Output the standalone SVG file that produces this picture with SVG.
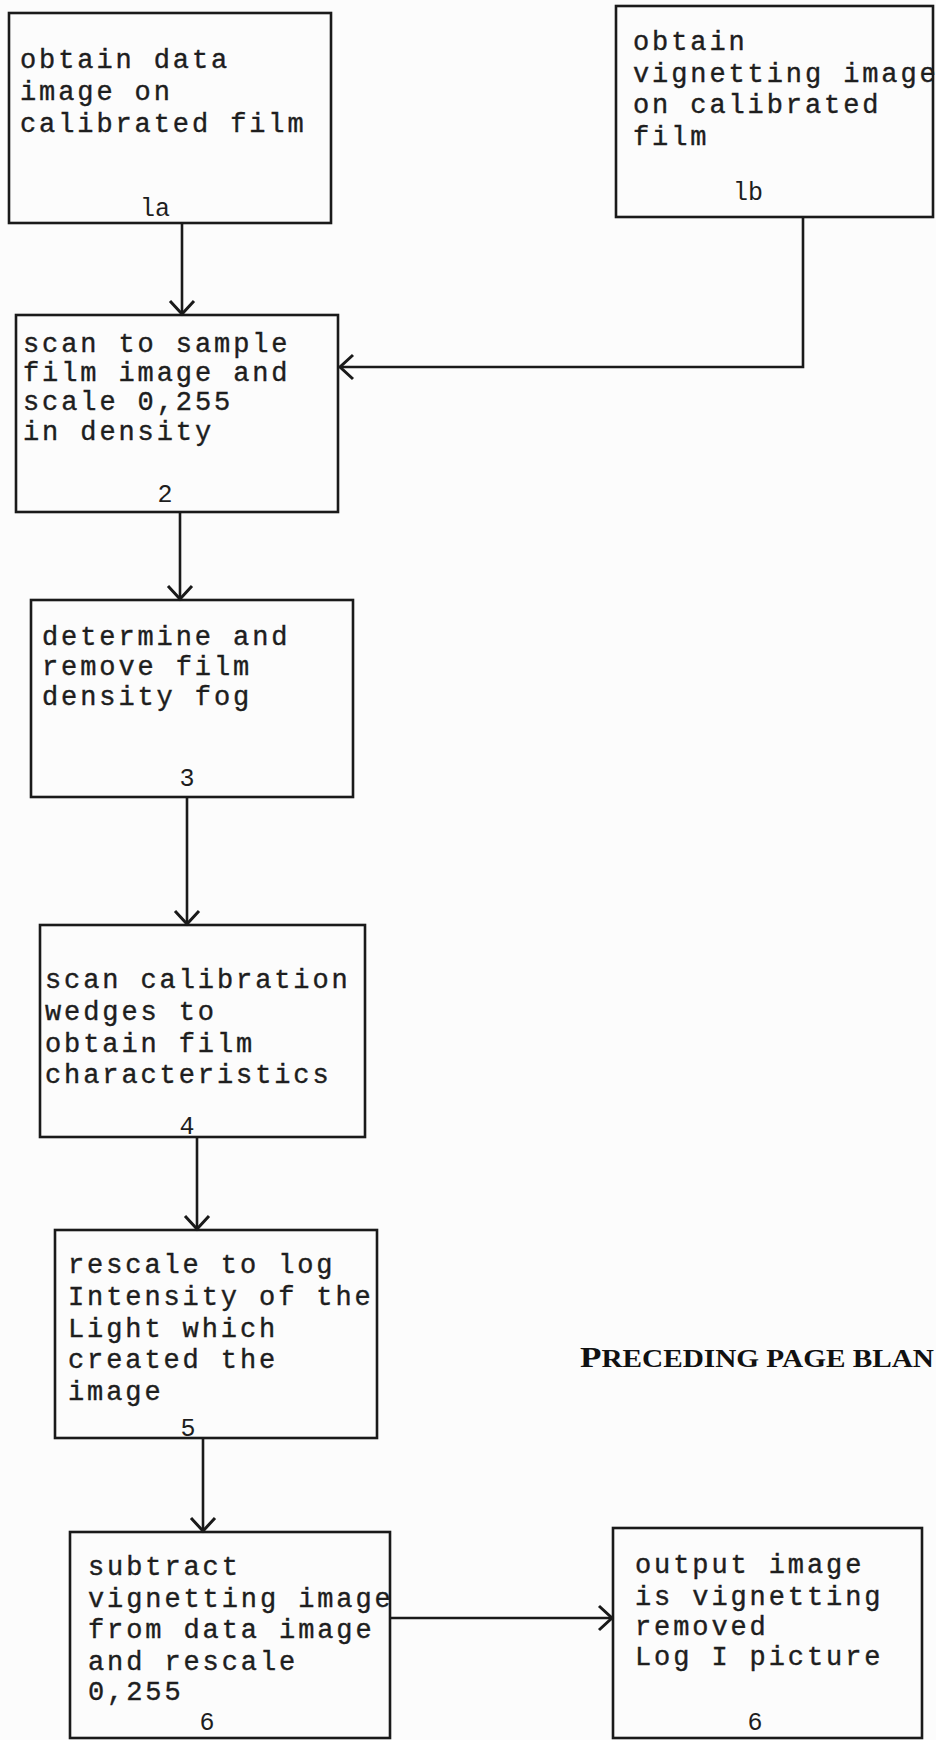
<svg xmlns="http://www.w3.org/2000/svg" width="936" height="1740" viewBox="0 0 936 1740">
<style>
.box{fill:none;stroke:#1a1a1a;stroke-width:2.6}
.t{font-family:"Liberation Mono","Courier New",monospace;font-size:27px;letter-spacing:2.9px;fill:#1e1e1e;stroke:#1e1e1e;stroke-width:0.4}
.n{font-family:"Liberation Mono","Courier New",monospace;font-size:25px;fill:#1e1e1e;text-anchor:middle}
.c{fill:none;stroke:#1a1a1a;stroke-width:2.6}
.hd{font-family:"Liberation Serif","Times New Roman",serif;font-weight:bold;font-size:25px;fill:#111}
</style>
<defs>
<marker id="ah" markerUnits="userSpaceOnUse" markerWidth="30" markerHeight="30" refX="16" refY="15" orient="auto" viewBox="0 0 30 30">
<path d="M3 3 L16 15 L3 27" fill="none" stroke="#1a1a1a" stroke-width="3"/>
</marker>
</defs>
<rect width="936" height="1740" fill="#fcfcfc"/>

<g id="node-1a">
<rect class="box" x="9" y="13" width="322" height="210"/>
<text class="t" x="20" y="68">obtain data</text>
<text class="t" x="20" y="100">image on</text>
<text class="t" x="20" y="132">calibrated film</text>
<text class="n" x="155" y="216">la</text>
</g>

<g id="node-1b">
<rect class="box" x="616" y="6" width="317" height="211"/>
<text class="t" x="633" y="50">obtain</text>
<text class="t" x="633" y="82">vignetting image</text>
<text class="t" x="633" y="113">on calibrated</text>
<text class="t" x="633" y="145">film</text>
<text class="n" x="748" y="200">lb</text>
</g>

<g id="node-2">
<rect class="box" x="16" y="315" width="322" height="197"/>
<text class="t" x="23" y="352">scan to sample</text>
<text class="t" x="23" y="381">film image and</text>
<text class="t" x="23" y="410">scale 0,255</text>
<text class="t" x="23" y="440">in density</text>
<text class="n" x="165" y="502">2</text>
</g>

<g id="node-3">
<rect class="box" x="31" y="600" width="322" height="197"/>
<text class="t" x="42" y="645">determine and</text>
<text class="t" x="42" y="675">remove film</text>
<text class="t" x="42" y="705">density fog</text>
<text class="n" x="187" y="786">3</text>
</g>

<g id="node-4">
<rect class="box" x="40" y="925" width="325" height="212"/>
<text class="t" x="45" y="988">scan calibration</text>
<text class="t" x="45" y="1020">wedges to</text>
<text class="t" x="45" y="1052">obtain film</text>
<text class="t" x="45" y="1083">characteristics</text>
<text class="n" x="187" y="1134">4</text>
</g>

<g id="node-5">
<rect class="box" x="55" y="1230" width="322" height="208"/>
<text class="t" x="68" y="1273">rescale to log</text>
<text class="t" x="68" y="1305">Intensity of the</text>
<text class="t" x="68" y="1337">Light which</text>
<text class="t" x="68" y="1368">created the</text>
<text class="t" x="68" y="1400">image</text>
<text class="n" x="188" y="1436">5</text>
</g>

<g id="node-6">
<rect class="box" x="70" y="1532" width="320" height="206"/>
<text class="t" x="88" y="1575">subtract</text>
<text class="t" x="88" y="1607">vignetting image</text>
<text class="t" x="88" y="1638">from data image</text>
<text class="t" x="88" y="1670">and rescale</text>
<text class="t" x="88" y="1700">0,255</text>
<text class="n" x="207" y="1730">6</text>
</g>

<g id="node-output">
<rect class="box" x="613" y="1528" width="309" height="210"/>
<text class="t" x="635" y="1573">output image</text>
<text class="t" x="635" y="1605">is vignetting</text>
<text class="t" x="635" y="1635">removed</text>
<text class="t" x="635" y="1665">Log I picture</text>
<text class="n" x="755" y="1730">6</text>
</g>

<g id="note">
<text class="hd" x="580" y="1367" textLength="354" lengthAdjust="spacingAndGlyphs"><tspan font-size="30">P</tspan>RECEDING PAGE BLAN</text>
</g>

<g id="connectors">
<path class="c" d="M182 223 L182 314" marker-end="url(#ah)"/>
<path class="c" d="M803 217 L803 367 L340 367" marker-end="url(#ah)"/>
<path class="c" d="M180 512 L180 599" marker-end="url(#ah)"/>
<path class="c" d="M187 797 L187 924" marker-end="url(#ah)"/>
<path class="c" d="M197 1137 L197 1229" marker-end="url(#ah)"/>
<path class="c" d="M203 1438 L203 1531" marker-end="url(#ah)"/>
<path class="c" d="M390 1618 L612 1618" marker-end="url(#ah)"/>
</g>
</svg>
